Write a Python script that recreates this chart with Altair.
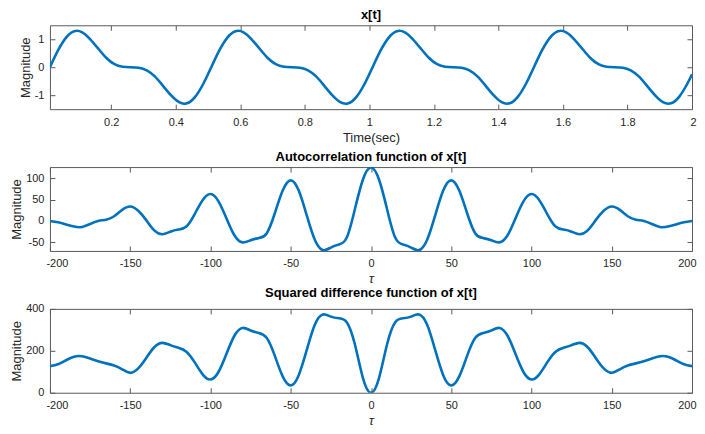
import altair as alt
import pandas as pd

FONT = "Liberation Sans"
BLUE = "#0072BD"
TXT = "#262626"
FRAME = "#5a5a5a"

# ---- x[t] ----
t_sec = [0.01, 0.035, 0.06, 0.085, 0.11, 0.135, 0.16, 0.185, 0.21, 0.235,
         0.26, 0.285, 0.31, 0.335, 0.36, 0.385, 0.41, 0.435, 0.46, 0.485,
         0.51, 0.535, 0.56, 0.585, 0.61, 0.635, 0.66, 0.685, 0.71, 0.735,
         0.76, 0.785, 0.81, 0.835, 0.86, 0.885, 0.91, 0.935, 0.96, 0.985,
         1.01, 1.035, 1.06, 1.085, 1.11, 1.135, 1.16, 1.185, 1.21, 1.235,
         1.26, 1.285, 1.31, 1.335, 1.36, 1.385, 1.41, 1.435, 1.46, 1.485,
         1.51, 1.535, 1.56, 1.585, 1.61, 1.635, 1.66, 1.685, 1.71, 1.735,
         1.76, 1.785, 1.81, 1.835, 1.86, 1.885, 1.91, 1.935, 1.96, 1.985, 2.0]
x_vals = [0.0, 0.60, 1.06, 1.29, 1.25, 1.00, 0.66, 0.33, 0.11, 0.02,
          0.0, -0.02, -0.11, -0.33, -0.66, -1.00, -1.25, -1.29, -1.06, -0.60,
          0.0, 0.60, 1.06, 1.29, 1.25, 1.00, 0.66, 0.33, 0.11, 0.02,
          0.0, -0.02, -0.11, -0.33, -0.66, -1.00, -1.25, -1.29, -1.06, -0.60,
          0.0, 0.60, 1.06, 1.29, 1.25, 1.00, 0.66, 0.33, 0.11, 0.02,
          0.0, -0.02, -0.11, -0.33, -0.66, -1.00, -1.25, -1.29, -1.06, -0.60,
          0.0, 0.60, 1.06, 1.29, 1.25, 1.00, 0.66, 0.33, 0.11, 0.02,
          0.0, -0.02, -0.11, -0.33, -0.66, -1.00, -1.25, -1.29, -1.06, -0.60,
          -0.25]

# ---- lags ----
tau = [-200, -195, -190, -185, -180, -175, -170, -165, -160, -155,
       -150, -145, -140, -135, -130, -125, -120, -115, -110, -105,
       -100, -95, -90, -85, -80, -75, -70, -65, -60, -55,
       -50, -45, -40, -35, -30, -25, -20, -15, -10, -5,
       0, 5, 10, 15, 20, 25, 30, 35, 40, 45,
       50, 55, 60, 65, 70, 75, 80, 85, 90, 95,
       100, 105, 110, 115, 120, 125, 130, 135, 140, 145,
       150, 155, 160, 165, 170, 175, 180, 185, 190, 195, 200]

acf_vals = [0, -3, -8, -13, -14, -7, 0, 3, 11, 26,
            34, 24, 2, -22, -31, -25, -20, -13, 15, 48,
            63, 46, 6, -34, -50, -45, -40, -29, 17, 71,
            95, 71, 13, -44, -68, -62, -55, -38, 28, 97,
            125, 97, 28, -38, -55, -62, -68, -44, 13, 71,
            95, 71, 17, -29, -40, -45, -50, -34, 6, 46,
            63, 48, 15, -13, -20, -25, -31, -22, 2, 24,
            34, 26, 11, 3, 0, -7, -14, -13, -8, -3, 0]

sdf_vals = [127, 136, 155, 172, 174, 163, 150, 140, 130, 112,
            95, 116, 166, 217, 238, 227, 215, 196, 147, 89,
            63, 99, 186, 273, 309, 297, 285, 262, 178, 78,
            35, 84, 204, 324, 373, 363, 355, 335, 230, 70,
            0, 70, 230, 335, 355, 363, 373, 324, 204, 84,
            35, 78, 178, 262, 285, 297, 309, 273, 186, 99,
            63, 89, 147, 196, 215, 227, 238, 217, 166, 116,
            95, 112, 130, 140, 150, 163, 174, 172, 155, 136, 127]

# ---- axes ----
x1_ticks = [0.2, 0.4, 0.6, 0.8, 1, 1.2, 1.4, 1.6, 1.8, 2]
y1_ticks = [-1, 0, 1]
lag_ticks = [-200, -150, -100, -50, 0, 50, 100, 150, 200]
y2_ticks = [-50, 0, 50, 100]
y3_ticks = [0, 200, 400]

titles = ["x[t]", "Autocorrelation function of x[t]", "Squared difference function of x[t]"]

W, H = 643, 84


def panel(df, xf, yf, xdom, ydom, xticks, yticks, title, xtitle, italic):
    xs = alt.Scale(domain=xdom, nice=False, zero=False)
    ys = alt.Scale(domain=ydom, nice=False, zero=False)
    lab = "'' + datum.value"
    main = alt.Chart(df).mark_line(
        color=BLUE, strokeWidth=2.6, interpolate="natural", clip=True
    ).encode(
        x=alt.X(f"{xf}:Q", scale=xs, title=xtitle, axis=alt.Axis(
            orient="bottom", values=xticks, labelExpr=lab, offset=-5, tickSize=5,
            domain=False, grid=False, labelPadding=7, titlePadding=4,
            tickColor=FRAME, labelColor=TXT, labelFont=FONT, labelFontSize=11,
            titleFont=FONT, titleFontSize=13, titleColor=TXT, titleFontWeight="normal",
            titleFontStyle="italic" if italic else "normal",
            labelFlush=True, labelFlushOffset=4)),
        y=alt.Y(f"{yf}:Q", scale=ys, title="Magnitude", axis=alt.Axis(
            orient="left", values=yticks, labelExpr=lab, offset=-5, tickSize=5,
            domain=False, grid=False, labelPadding=6, titlePadding=2,
            tickColor=FRAME, labelColor=TXT, labelFont=FONT, labelFontSize=11,
            titleFont=FONT, titleFontSize=13, titleColor=TXT, titleFontWeight="normal",
            labelFlush=False)),
    )
    # inward ticks on the top and right edges (bottom/left axes pushed across the plot)
    ticks = alt.Chart(df).mark_point(opacity=0, size=1).encode(
        x=alt.X(f"{xf}:Q", scale=xs, axis=alt.Axis(
            orient="bottom", values=xticks, labels=False, offset=-H, tickSize=5,
            domain=False, grid=False, title=None, tickColor=FRAME)),
        y=alt.Y(f"{yf}:Q", scale=ys, axis=alt.Axis(
            orient="left", values=yticks, labels=False, offset=-W, tickSize=5,
            domain=False, grid=False, title=None, tickColor=FRAME)),
    )
    return alt.layer(main, ticks).resolve_axis(x="independent", y="independent").properties(
        width=W, height=H,
        title=alt.TitleParams(title, font=FONT, fontSize=13, fontWeight="bold",
                              color="black", offset=3, anchor="middle"),
    )


df1 = pd.DataFrame({"t": t_sec, "x": x_vals})
df2 = pd.DataFrame({"tau": tau, "r": acf_vals})
df3 = pd.DataFrame({"tau": tau, "d": sdf_vals})

p1 = panel(df1, "t", "x", [0.01, 2], [-1.5, 1.5], x1_ticks, y1_ticks, titles[0], "Time(sec)", False)
p2 = panel(df2, "tau", "r", [-200, 200], [-70, 126], lag_ticks, y2_ticks, titles[1], "τ", True)
p3 = panel(df3, "tau", "d", [-200, 200], [0, 400], lag_ticks, y3_ticks, titles[2], "τ", True)

chart = alt.vconcat(p1, p2, p3, spacing=58).properties(
    bounds="flush",
    padding={"left": 2, "top": 0, "right": 0, "bottom": 0},
    background="white",
).configure_view(stroke=FRAME, strokeWidth=1)

chart.save("out.html", embed_options={"renderer": "svg", "actions": False})
